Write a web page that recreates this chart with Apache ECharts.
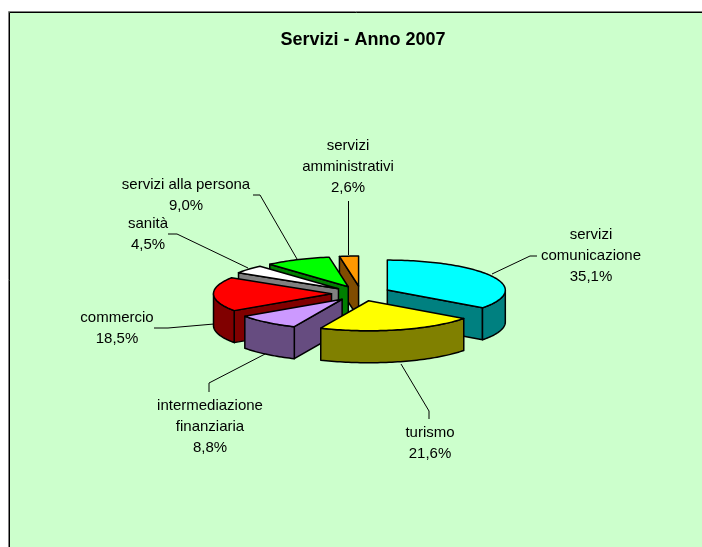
<!DOCTYPE html>
<html>
<head>
<meta charset="utf-8">
<style>html,body{margin:0;padding:0;background:#fff}#c{width:702px;height:547px}</style>
<script src="https://cdn.jsdelivr.net/npm/echarts@6/dist/echarts.min.js"></script>
</head>
<body>
<div id="c"></div>
<script>
var chartTitle = 'Servizi - Anno 2007';
var categories = ['servizi\ncomunicazione', 'turismo', 'intermediazione\nfinanziaria', 'commercio', 'sanità', 'servizi alla persona', 'servizi\namministrativi'];
var values = [35.1, 21.6, 8.8, 18.5, 4.5, 9.0, 2.6];
var topColors = ['#00FFFF', '#FFFF00', '#CC99FF', '#FF0000', '#FFFFFF', '#00FF00', '#FF9900'];
var sideColors = ['#008080', '#808000', '#664C80', '#800000', '#808080', '#008000', '#804C00'];

// Label centres and leader-line routes (layout only)
var labelCentres = [[591, 255.5], [430, 443], [210, 426.5], [117, 328], [148, 234], [186, 195], [348, 166.5]];
var leaders = [
  [[492, 274], [530, 256], [537, 256]],
  [[401, 364], [429, 411], [429, 419]],
  [[267, 353], [209, 383], [209, 392]],
  [[214, 324], [168, 328], [154, 328]],
  [[248, 268], [177, 234], [168, 234]],
  [[297, 259], [260, 195], [253, 195]],
  [[348.5, 255], [348.5, 201]]
];
var pie = { cx: 361, cy: 293.5, rx: 118, ry: 30, depth: 32, explode: 0.25 };
var FONT = '"Liberation Sans", Arial, sans-serif';
var total = values.reduce(function (a, b) { return a + b; }, 0);

function startAngle(i) {
  var s = 0;
  for (var k = 0; k < i; k++) s += values[k];
  return s / total * Math.PI * 2;
}
function rimPoint(o, t) {
  return [o[0] + pie.rx * Math.sin(t), o[1] - pie.ry * Math.cos(t)];
}
function drop(p) { return [p[0], p[1] + pie.depth]; }
function poly(points, fill, z2) {
  return {
    type: 'polygon', z2: z2, shape: { points: points },
    style: { fill: fill, stroke: '#000', lineWidth: 1.5, lineJoin: 'round' }
  };
}

function renderSlice(params, api) {
  var i = params.dataIndex;
  var value = api.value(0);
  var a = startAngle(i);
  var b = a + value / total * Math.PI * 2;
  var m = (a + b) / 2;
  var o = [pie.cx + pie.explode * pie.rx * Math.sin(m), pie.cy - pie.explode * pie.ry * Math.cos(m)];
  var zBase = Math.round(200 - Math.cos(m) * 100) * 10;
  var children = [];
  var pa = rimPoint(o, a), pb = rimPoint(o, b);

  // Cut faces turned towards the viewer
  if (Math.sin(a) < -1e-6) children.push(poly([o, pa, drop(pa), drop(o)], sideColors[i], zBase));
  if (Math.sin(b) > 1e-6) children.push(poly([o, pb, drop(pb), drop(o)], sideColors[i], zBase));

  // Outer wall, front half of the rim only
  var wa = Math.max(a, Math.PI / 2), wb = Math.min(b, Math.PI * 1.5);
  if (wb > wa) {
    var up = [], down = [], n = Math.max(4, Math.ceil((wb - wa) * 40));
    for (var k = 0; k <= n; k++) {
      var p = rimPoint(o, wa + (wb - wa) * k / n);
      up.push(p);
      down.unshift(drop(p));
    }
    children.push(poly(up.concat(down), sideColors[i], zBase + 1));
  }

  // Top face
  var top = [o], steps = Math.max(4, Math.ceil((b - a) * 40));
  for (var j = 0; j <= steps; j++) top.push(rimPoint(o, a + (b - a) * j / steps));
  children.push(poly(top, topColors[i], zBase + 2));

  // Leader line
  children.push({
    type: 'polyline', z2: 1, shape: { points: leaders[i] },
    style: { fill: null, stroke: '#000', lineWidth: 1 }
  });

  // Label
  children.push({
    type: 'text', z2: 5000,
    style: {
      text: categories[i] + '\n' + value.toFixed(1).replace('.', ',') + '%',
      x: labelCentres[i][0], y: labelCentres[i][1],
      align: 'center', verticalAlign: 'middle',
      fontFamily: FONT, fontSize: 15, lineHeight: 21, fill: '#000'
    }
  });
  return { type: 'group', children: children };
}

var chart = echarts.init(document.getElementById('c'), null, { renderer: 'canvas', width: 702, height: 547 });
chart.setOption({
  animation: false,
  backgroundColor: '#FFFFFF',
  title: {
    text: chartTitle, left: 358, top: 26, textAlign: 'center',
    textStyle: { fontFamily: FONT, fontSize: 18, fontWeight: 'bold', color: '#000' }
  },
  graphic: [{
    type: 'rect', z: -10, silent: true,
    shape: { x: 8.5, y: 11.5, width: 700, height: 540 },
    style: { fill: '#CCFFCC', stroke: '#808080', lineWidth: 1 }
  }, {
    type: 'rect', z: -9, silent: true,
    shape: { x: 9.5, y: 12.5, width: 700, height: 540 },
    style: { fill: '#CCFFCC', stroke: '#000000', lineWidth: 1 }
  }],
  series: [{
    type: 'custom',
    coordinateSystem: 'none',
    renderItem: renderSlice,
    data: values.map(function (v, i) { return { name: categories[i], value: [v] }; })
  }]
});
</script>
</body>
</html>
